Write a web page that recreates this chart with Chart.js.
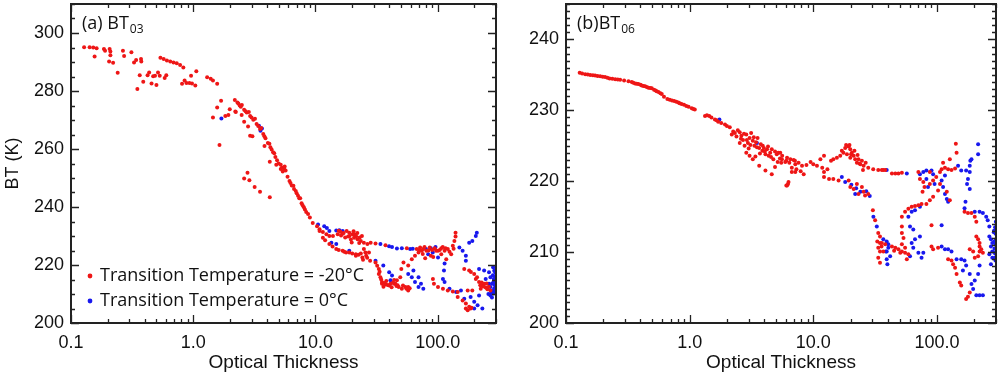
<!DOCTYPE html>
<html>
<head>
<meta charset="utf-8">
<script src="https://cdn.jsdelivr.net/npm/chart.js@4.4.1/dist/chart.umd.min.js"></script>
<style>
  html, body { margin: 0; padding: 0; background: #fff; width: 1000px; height: 374px; overflow: hidden; }
  .panel { position: absolute; top: 0; height: 374px; }
</style>
</head>
<body>
<div class="panel" style="left:0;width:500px;"><canvas id="chartA"></canvas></div>
<div class="panel" style="left:500px;width:500px;"><canvas id="chartB"></canvas></div>
<script>
// ---------------- data ----------------
const xTickValues = [0.1, 1, 10, 100];
const xTickLabels = ['0.1', '1.0', '10.0', '100.0'];
const yTicksA = [200, 220, 240, 260, 280, 300];
const yTicksB = [200, 210, 220, 230, 240];
const seriesLabels = ['Transition Temperature = -20°C', 'Transition Temperature = 0°C'];
const panelTitles = [['(a) BT', '03'], ['(b)BT', '06']];
const xTitle = 'Optical Thickness';
const yTitle = 'BT (K)';

// panel (a) BT03, transition temperature -20°C (red)
const a_red = [
[0.128,295.1],[0.142,295.1],[0.152,295.0],[0.162,294.7],[0.156,291.9],[0.186,294.5],[0.19,293.9],[0.207,294.5],[0.21,293.6],[0.21,292.3],[0.205,290.2],[0.221,289.7],[0.241,286.3],[0.266,293.9],[0.272,292.1],[0.312,293.4],[0.328,289.8],[0.341,290.7],[0.374,291.0],[0.376,290.2],[0.349,280.7],[0.365,285.4],[0.39,283.2],[0.423,285.4],[0.436,286.4],[0.456,282.6],[0.47,285.1],[0.487,285.3],[0.5,282.1],[0.515,286.4],[0.532,285.3],[0.584,284.5],[0.602,285.4],
[0.539,291.5],[0.573,291.0],[0.609,290.5],[0.649,290.2],[0.69,289.8],[0.733,289.6],[0.781,289.0],[0.83,288.1],
[0.81,282.5],[0.85,283.6],[0.88,282.8],[0.93,282.8],[0.977,282.6],[1.04,281.9],[0.96,285.3],[1.06,286.8],[1.30,284.7],[1.39,284.2],[1.45,283.6],[1.57,282.5],[1.69,276.6],[1.57,274.3],[1.45,270.9],[1.64,261.4],[1.83,271.4],[1.99,273.7],[2.21,272.9],
[2.19,276.9],[2.34,275.7],[2.45,274.6],[2.61,273.5],[2.74,272.6],[2.92,271.4],[3.10,270.1],[3.30,268.6],[3.52,266.9],[3.74,265.2],[3.90,263.7],[4.08,262.1],[4.28,260.6],[4.50,258.9],[4.70,257.2],[5.0,255.0],[5.32,253.5],[5.56,253.0],[5.91,250.4],[6.13,249.0],[6.40,247.4],[6.68,246.2],[7.02,244.7],[7.37,243.0],[7.7,241.3],[8.04,239.9],[8.4,238.3],
[2.3,276.0],[2.5,275.2],[2.85,272.8],[3.2,270.4],[3.6,267.2],[4.2,261.8],[4.6,258.5],[5.2,254.6],[5.7,252.6],[6.6,247.3],[7.5,243.0],[8.7,237.6],[5.4,252.2],[5.6,254.0],[5.2,253.1],
[2.4,275.0],[2.68,273.0],[3.0,270.9],[3.4,267.9],[3.82,264.4],[4.38,259.8],[4.85,256.1],[6.25,248.3],[6.9,245.5],[7.2,243.9],[7.85,240.6],[8.2,239.1],[9.0,236.4],
[1.94,271.7],[2.23,272.8],[2.49,271.7],[2.61,269.4],[2.81,267.8],[2.92,264.6],[3.05,264.4],[3.83,261.0],[4.23,255.6],[4.78,254.6],[2.78,251.8],[2.61,249.8],[2.88,249.2],[3.18,246.9],[3.52,245.3],[4.23,243.4],
[9.5,234.5],[10.3,233.4],[10.8,232.3],[11.5,231.4],[12.3,230.6],[13.0,230.0],[13.9,230.0],[15.2,230.6],[16.7,230.8],[18.0,231.7],[18.9,231.1],[20.1,230.6],[20.7,229.4],[22.1,228.9],[23.5,228.3],[24.9,227.7],[26.6,227.2],[16,231.5],[17.5,229.5],[19,230],[21,230.5],[22,231],[19.5,228.8],[24,230],
[15.5,231.8],[16.2,230.2],[17,231],[18.5,229.8],[20.5,231.6],[21.5,229.9],[23,229.5],[22.8,227.6],[19.8,227.8],
[10.8,231.7],[11.5,229.4],[13.0,227.2],[14.8,225.5],[16.7,224.9],[18.9,224.3],[21.4,223.7],[23.5,224.0],[24.9,225.5],[25.6,224.3],[27.4,224.3],[24.2,222.6],[21.4,223.2],[17.8,224.3],[28.0,221.5],
[12,228.5],[13.8,226.4],[15.5,225.2],[17.2,224.6],[20,224.0],[22.5,223.5],[26,223.2],[24.5,221.8],[26.5,222.5],
[28.3,227.7],[31.0,227.4],[37.4,226.8],[55.9,225.8],
[31.0,220.9],[33.0,218.6],[34.0,215.8],[35.0,214.1],[37.4,213.3],[41.1,213.5],[44.2,213.5],[33.0,216.9],[35.0,213.5],[40.1,212.9],[45.1,213.5],[50.9,211.8],[57.4,212.4],[48.0,212.4],[54.4,212.4],[57.4,211.2],[52.5,220.9],[50.4,218.6],[49.4,215.8],[46.4,214.7],[61.4,222.0],[65.2,223.2],[57.4,219.8],[36,212.5],[38,214.5],[42,212.3],[44,214.8],[47,213.0],
[32,219.7],[33.5,217.7],[34.5,215.0],[36.5,213.8],[39,213.1],[43,213.9],[46,212.8],[52,212.9],[55.5,211.8],[59,212.0],
[67.3,225.5],[69.7,224.3],[71.8,226.0],[74.1,224.9],[76.3,225.5],[81.0,224.9],[86.1,226.0],[94.5,225.8],[100.6,224.9],[107,225.8],[113.9,224.9],[121,225.5],[133,226.6],[137,228.3],[140,231.1],[129,223.7],[117.5,222.0],[107,223.7],[87.9,223.2],[140,229.8],
[70.5,225.2],[78,226.2],[84,225.0],[90,225.2],[97,224.9],[104,225.2],[110,226.2],[116,225.8],[125,224.6],[135,225.6],[92,222.8],[79,222.3],[75.5,223.8],
[91.4,215.2],[93.2,213.5],[100.6,212.4],[110.4,211.8],[121,211.2],[133,210.9],[145.8,210.7],
[164.9,218.6],[181,218.1],[199,216.9],[205,215.2],[218,214.1],[232,212.9],[247,212.2],[225,211.8],[192,211.2],[176,211.2],[270,211.2],[240,213.5],
[187,217.6],[210,215.8],[223,213.0],[229,214.0],[238,212.6],[255,211.6],[262,212.5],[251,213.6],
[145.8,209.0],[160,207.8],[170,206.7],[181,205.6],[176,204.4],[189,205.3],[170,205.0],[186,205.0]
];

// panel (a) BT03, transition temperature 0°C (blue)
const a_blue = [
[1.70,270.5],[3.45,268.0],[3.55,266.3],[3.65,267.1],
[10.5,234.0],[11.8,233.4],[13.0,231.7],[14.8,231.9],[16.7,231.7],[13.5,227.7],[14.8,227.2],[18.9,224.9],[12.4,232.8],[15.7,232.0],
[34.0,227.2],[42.3,226.2],[46.4,225.7],[50.9,225.8],[59.5,225.5],[40,226.5],[62.5,225.6],
[31.0,221.5],[35.9,219.8],[40.1,217.5],[42.3,216.4],[41.1,214.7],[63.3,218.1],[69.7,215.8],[65.2,214.1],[76.3,211.8],[73.0,213.5],[57.4,216.9],[61.4,215.8],[69.7,212.4],
[80.2,225.5],[83.6,223.7],[91.1,224.3],[100.6,222.6],[113.9,220.5],[150.5,226.0],[160,224.9],[170,223.2],[170,221.5],[181,227.7],[192,228.3],[209,231.1],[205,230.0],[112.6,218.1],[88,225.8],[96,226.2],
[110.4,215.2],[113.9,214.1],[125,211.8],[141.5,210.7],[155,211.2],
[165,208.4],[186,209.0],[199,207.3],[212,206.1],[232,205.0],[218,209.5],[199,205.0],
[218,218.6],[240,218.1],[263,217.5],[270,215.8],[279,213.5],[263,213.5],[270,212.4],[247,215.2],[285,214],[290,212],[275,210.5],[295,216],[290,218],[260,210],[280,211],[295,210.8],
[283,216.5],[288,215.2],[298,214.5],[292,213.2],[297,211.8],[286,210.2],[299,212.8],[296,217.4],[284,219.2],[300,219.0],[270,209.5],[278,208.8]
];

// panel (b) BT06, transition temperature -20°C (red)
const b_red = [
[0.129,235.3],[0.143,235.1],[0.157,235.0],[0.172,234.9],[0.189,234.8],[0.207,234.7],[0.225,234.5],[0.25,234.4],[0.274,234.3],[0.32,234.1],[0.34,234.0],[0.362,233.8],[0.385,233.7],[0.41,233.5],[0.436,233.4],[0.464,233.2],[0.494,233.1],[0.515,232.9],[0.541,232.7],[0.595,232.3],[0.62,231.9],[0.69,231.5],[0.75,231.3],[0.81,231.1],[0.86,230.9],[0.94,230.6],[1.04,230.3],[1.10,230.1],[1.33,229.2],[1.44,229.2],[1.6,228.7],[1.70,228.4],[1.93,228.0],[2.11,227.6],[2.25,227.0],[2.19,226.6],
[0.135,235.2],[0.15,235.05],[0.165,234.95],[0.18,234.85],[0.198,234.75],[0.216,234.6],[0.237,234.45],[0.262,234.35],[0.295,234.2],[0.35,233.9],[0.373,233.75],[0.4,233.6],[0.423,233.45],[0.45,233.3],[0.48,233.15],[0.53,232.8],[0.56,232.6],[0.58,232.4],[0.66,231.6],[0.72,231.4],[0.78,231.2],[0.83,231.0],[0.9,230.8],[0.98,230.5],[1.07,230.2],[1.38,229.3],[1.5,229.0],[1.65,228.6],[1.8,228.2],[2.0,227.8],
[2.32,226.8],[2.39,226.3],[2.54,226.9],[2.62,226.4],[2.70,225.8],[2.87,226.6],[2.96,225.4],[3.05,226.1],[3.14,226.8],[3.24,225.7],[3.34,225.0],[3.44,225.5],[3.54,226.1],[3.65,224.7],[3.76,225.2],[3.87,224.3],[3.98,224.7],[4.10,223.8],[4.22,224.5],[4.35,223.6],[4.48,224.0],[4.61,224.5],[4.75,223.1],[5.06,223.8],[5.21,224.0],[5.37,223.2],[3.65,222.2],[4.10,221.5],[4.61,221.0],[2.87,224.0],[3.05,223.6],[3.24,223.1],[2.54,225.4],[2.78,225.0],[6.05,222.9],[6.24,219.6],[6.05,219.4],[6.7,221.9],[7.1,222.9],[6.4,222.6],[5.5,222.6],
[2.45,227.2],[2.6,226.0],[2.75,226.7],[2.9,225.8],[3.1,225.1],[3.3,226.2],[3.5,224.8],[3.7,223.9],[3.9,225.0],[4.05,224.2],[4.3,224.9],[4.55,223.4],[4.9,224.2],[5.15,222.7],[5.6,223.6],[3.4,223.5],[4.9,222.0],[3.0,224.6],
[5.4,224.0],[5.57,223.1],[5.93,222.7],[6.13,223.3],[6.52,223.1],[6.93,223.0],[7.15,222.4],[7.6,222.6],[8.1,222.2],[8.36,221.0],[7.15,221.3],[6.7,221.3],[6.3,219.9],[6.13,219.4],[7.9,221.4],[8.8,222.3],[9.5,222.7],[7.3,221.7],
[10.0,222.4],[10.7,222.2],[11.4,223.1],[12.2,223.6],[11.8,221.9],[13.0,221.7],[12.2,221.3],[13.9,222.9],[14.5,223.1],[15.5,223.3],[16.5,223.6],[17.5,224.0],[18.1,224.7],[19.3,224.9],[19.9,224.5],[20.5,224.0],[21.2,223.6],[21.8,223.1],[22.5,222.6],[24.0,222.4],[25.5,222.2],[19.9,223.3],[18.7,223.8],[23.2,223.1],[24.7,222.9],[27.8,221.9],[30.5,221.7],[33.5,221.6],[36.8,221.6],
[17,224.3],[18.4,225.1],[19.6,225.1],[20.2,223.8],[21.5,224.3],[22.8,223.7],[23.6,222.5],[26.5,222.6],[25.2,221.6],
[12.2,220.6],[13.4,220.3],[14.5,220.3],[16.0,220.1],[19.3,220.1],[19.9,219.2],[21.2,218.9],[22.5,219.6],[24.7,219.2],[25.5,218.5],[26.2,218.0],[27.8,218.2],[23.2,218.2],
[30.3,215.9],[31.6,214.5],[33.5,212.7],[34.6,212.2],[32.9,211.5],[34.6,211.3],[33.5,210.6],[34.6,210.1],[33.5,209.2],[34.6,208.5],[35.6,210.8],[36.8,210.1],
[35.8,211.3],[38.1,211.1],[43.2,210.8],[46.0,210.6],[48.8,210.4],[50.5,209.9],[55.2,209.9],[58.7,209.7],[57.0,209.0],[45,210.2],
[35.8,221.6],[38.1,221.6],[43.2,221.1],[46.0,221.1],[48.8,221.1],[52.0,221.2],
[70.7,221.3],[87.5,221.3],[72.8,220.3],[77.5,219.9],[87.5,219.6],[93.0,220.1],[79.2,219.2],[76.4,218.5],[98.6,220.6],[105.7,221.3],[109,221.7],[116,221.9],[123,221.7],[131,221.6],[140,221.8],[112,222.6],[127,223.1],[144,224.0],[142,225.3],[105.7,219.6],[102,218.7],[87.5,217.3],[93,217.8],[82.1,216.8],[120,218.5],[127,217.3],
[52.0,215.0],[55.2,215.7],[58.7,216.1],[62.4,216.4],[66.4,216.5],[70.7,216.6],[75.0,216.8],[52.0,213.6],[52.0,212.7],[53.6,212.0],[52.0,211.1],[55.2,210.6],[52.0,210.1],[90.3,213.8],[90.3,210.8],[93,210.4],[102,210.6],
[123,209.0],[131,208.8],[135,208.3],[140,207.8],[144,206.9],[153,205.7],[157,205.3],[172,203.4],[178,203.7],[184,204.3],
[167,215.7],[178,215.5],[190,215.5],[202,215.0],[208,214.3],[208,212.2],[215,211.8],[221,211.3],[221,210.8],[228,210.4],[221,210.1],[215,209.4],[196,210.1],[184,210.4],[202,209.2],[235,209.9]
];

// panel (b) BT06, transition temperature 0°C (blue)
const b_blue = [
[1.74,228.7],[3.50,225.4],
[17.0,220.6],[18.1,219.9],[24.0,218.5],[28.6,217.9],[21.8,218.2],[39.2,221.6],[20.3,219.5],[22.2,219.0],[26.8,218.6],
[30.6,215.0],[32.6,213.6],[39.2,211.5],[40.4,211.1],[38.6,210.1],[39.2,209.0],[39.7,208.3],[36.8,211.8],
[40.4,210.6],[60.5,209.4],[41.8,209.4],[39.2,210.1],
[57.0,221.1],[72.8,221.0],[77.5,221.3],[82.1,221.5],[90.3,221.5],[93.0,221.0],[82.1,220.3],[84.6,219.2],[95.6,219.6],
[116,220.8],[109,220.1],[112,219.2],[116,218.2],[120,217.5],[123,217.1],
[148,222.2],[157,221.5],[172,221.5],[184,222.2],[190,223.1],[184,221.3],[178,220.3],[175,219.6],[184,218.9],[170,217.1],[167,216.2],[215,225.2],[215,223.8],[186,222.9],
[58.7,215.0],[62.4,215.7],[66.4,215.9],[72.8,216.4],[60.5,213.6],[64.3,213.2],[72.8,212.2],[66.4,211.8],[62.4,211.3],[64.3,210.6],[70.7,209.9],[75.0,209.2],[77.5,209.9],[109,213.8],[109,210.8],[116,210.4],[123,210.4],[131,210.1],
[144,209.0],[157,209.0],[167,208.8],[172,208.1],[162,207.4],[184,206.9],[190,205.5],[196,204.8],[208,203.9],[221,203.9],[235,203.9],[202,206.0],[215,206.9],[221,208.1],
[202,215.7],[221,215.7],[235,215.5],[250,215.0],[257,214.5],[265,213.6],[265,212.2],[273,211.8],[280,211.3],[273,210.8],[280,210.1],[265,209.7],[280,209.2],[273,208.3],[290,211.5],[292,210.5],[288,212.8],[295,209.8],
[295,213.5],[298,212.6],[296,211.2],[299,210.0],[297,208.8],[300,211.8],[299,214.3],[289,213.0],[294,209.2]
];

// ---------------- drawing ----------------
const RED = 'rgb(238,22,22)';
const BLUE = 'rgb(24,24,238)';
const AXIS_FONT = 'Liberation Sans, Arial, sans-serif';
const LABEL_FONT = 'Open Sans, Noto Sans, sans-serif';

const toPts = arr => arr.map(p => ({ x: p[0], y: p[1] }));

const frameTicks = {
  id: 'frameTicks',
  afterDraw(chart, args, o) {
    const { ctx, chartArea: { left, right, top, bottom }, scales: { x, y } } = chart;
    ctx.save();
    ctx.strokeStyle = '#222';
    ctx.lineWidth = 1.3;
    ctx.beginPath();
    xTickValues.forEach(d => {
      for (let m = 1; m <= 9; m++) {
        const v = d * m;
        if (v < x.min - 1e-9 || v > x.max + 1e-9) continue;
        const px = Math.round(x.getPixelForValue(v)) + 0.5;
        const len = m === 1 ? 8 : 4;
        ctx.moveTo(px, bottom); ctx.lineTo(px, bottom - len);
        ctx.moveTo(px, top); ctx.lineTo(px, top + len);
      }
    });
    const n = Math.round((y.max - y.min) / o.minor);
    for (let i = 0; i <= n; i++) {
      const v = y.min + i * o.minor;
      const py = Math.round(y.getPixelForValue(v)) + 0.5;
      const r = (v - y.min) / o.major;
      const len = Math.abs(r - Math.round(r)) < 1e-6 ? 8 : 4;
      ctx.moveTo(left, py); ctx.lineTo(left + len, py);
      ctx.moveTo(right, py); ctx.lineTo(right - len, py);
    }
    ctx.stroke();
    ctx.lineWidth = 2;
    ctx.strokeRect(left, top, right - left, bottom - top);

    ctx.fillStyle = '#111';
    ctx.textBaseline = 'alphabetic';
    ctx.textAlign = 'left';
    ctx.font = '18px ' + LABEL_FONT;
    const tx = left + 11, ty = top + 25;
    ctx.fillText(o.title[0], tx, ty);
    const w = ctx.measureText(o.title[0]).width;
    ctx.font = '12px ' + LABEL_FONT;
    ctx.fillText(o.title[1], tx + w + 1, ty + 4);

    if (o.legend) {
      chart.data.datasets.forEach((ds, i) => {
        const cy = bottom - 47 + i * 25;
        ctx.fillStyle = ds.backgroundColor;
        ctx.beginPath();
        ctx.arc(left + 19, cy, 2.4, 0, Math.PI * 2);
        ctx.fill();
        ctx.fillStyle = '#111';
        ctx.font = '18px ' + LABEL_FONT;
        ctx.textBaseline = 'middle';
        ctx.fillText(ds.label, left + 29, cy);
      });
    }
    ctx.restore();
  }
};

function makeChart(id, red, blue, cfg) {
  return new Chart(document.getElementById(id), {
    type: 'scatter',
    data: {
      datasets: [
        { label: seriesLabels[0], data: toPts(red), backgroundColor: RED, borderColor: RED, pointRadius: 2, pointBorderWidth: 0 },
        { label: seriesLabels[1], data: toPts(blue), backgroundColor: BLUE, borderColor: BLUE, pointRadius: 2, pointBorderWidth: 0 }
      ]
    },
    options: {
      responsive: true,
      maintainAspectRatio: false,
      animation: false,
      events: [],
      layout: { padding: { top: 1, right: cfg.padRight, left: 0, bottom: 0 } },
      plugins: {
        legend: { display: false },
        tooltip: { enabled: false },
        frameTicks: { major: cfg.major, minor: cfg.minor, title: cfg.title, legend: cfg.legend }
      },
      scales: {
        x: {
          type: 'logarithmic',
          min: 0.1, max: 300,
          afterBuildTicks: s => { s.ticks = xTickValues.map(v => ({ value: v })); },
          afterFit: s => { s.height = 51; s.paddingLeft = 0; s.paddingRight = 0; },
          ticks: {
            callback: (v, i) => xTickLabels[i],
            font: { family: AXIS_FONT, size: 18 },
            color: '#111', padding: 9, autoSkip: false, maxRotation: 0
          },
          grid: { display: false, drawTicks: false },
          border: { display: false },
          title: { display: true, text: xTitle, font: { family: AXIS_FONT, size: 19 }, color: '#111', padding: { top: 0, bottom: 0 } }
        },
        y: {
          type: 'linear',
          min: cfg.ymin, max: cfg.ymax,
          afterBuildTicks: s => { s.ticks = cfg.yTicks.map(v => ({ value: v })); },
          afterFit: s => { s.width = cfg.yWidth; s.paddingTop = 0; s.paddingBottom = 0; },
          ticks: {
            callback: v => String(v),
            font: { family: AXIS_FONT, size: 18 },
            color: '#111', padding: 7
          },
          grid: { display: false, drawTicks: false },
          border: { display: false },
          title: { display: cfg.showYTitle, text: yTitle, font: { family: AXIS_FONT, size: 18 }, color: '#111', padding: { top: 2, bottom: 0 } }
        }
      }
    },
    plugins: [frameTicks]
  });
}

makeChart('chartA', a_red, a_blue, {
  ymin: 200, ymax: 310, yTicks: yTicksA, major: 20, minor: 5, yWidth: 71, padRight: 1,
  title: panelTitles[0], legend: true, showYTitle: true
});
makeChart('chartB', b_red, b_blue, {
  ymin: 200, ymax: 245, yTicks: yTicksB, major: 10, minor: 1, yWidth: 66, padRight: 4,
  title: panelTitles[1], legend: false, showYTitle: false
});
</script>
</body>
</html>
